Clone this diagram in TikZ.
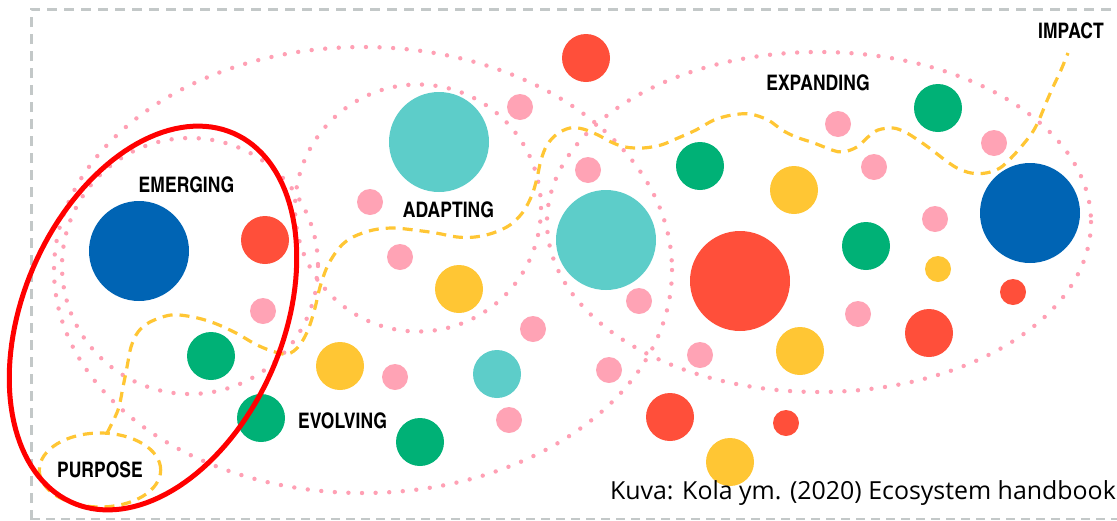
\documentclass[tikz,border=0pt]{standalone}
\usepackage{fontspec}
\usetikzlibrary{shapes.geometric}
\newfontfamily\cnfont{texgyreheroscn-bold.otf}
\newfontfamily\capfont{Open Sans}
\definecolor{blueC}{HTML}{0064B4}
\definecolor{tealC}{HTML}{5DCDC9}
\definecolor{redC}{HTML}{FF4F3A}
\definecolor{greenC}{HTML}{00B176}
\definecolor{yellowC}{HTML}{FFC634}
\definecolor{pinkC}{HTML}{FFA3B5}
\definecolor{dotC}{HTML}{FFA0B4}
\definecolor{borderC}{HTML}{C3C8C8}
\definecolor{ringC}{HTML}{FF0000}
\begin{document}
\begin{tikzpicture}[x=1pt,y=-1pt,
  dotline/.style={draw=dotC, line width=4.4pt, line cap=round, dash pattern=on 0pt off 13.6pt},
  yel/.style={draw=yellowC, line width=3.2pt, dash pattern=on 10pt off 7pt},
  lbl/.style={font=\cnfont\fontsize{21.4}{24}\selectfont, inner sep=0pt, text=black},
  circ/.style={circle, inner sep=0pt, draw=none},
  bigc/.style={circ, minimum size=100pt},
  midc/.style={circ, minimum size=48pt},
  smallc/.style={circ, minimum size=26pt}]
\useasboundingbox (0,0) rectangle (1117,520);
% border
\draw[borderC, line width=3pt, dash pattern=on 10pt off 7pt] (31,520) -- (31,9) -- (1130,9);
\draw[borderC, line width=2.5pt, dash pattern=on 9pt off 6pt] (31,519) -- (1130,519);
% dotted loops
\draw[dotline] (190,266) ellipse [x radius=128, y radius=128];
\draw[dotline] (418,208) ellipse [x radius=123, y radius=123.5];
\draw[dotline] (363,270) ellipse [x radius=309, y radius=223];
\draw[dotline] (819,222) ellipse [x radius=272, y radius=170];
% purpose
\node[lbl, ellipse, yel, minimum width=116pt, minimum height=74pt] (purpose) at (100,470) {PURPOSE};
\coordinate (impactend) at (1068,53);
\draw[yel] plot[smooth, tension=0.55] coordinates {
 (107,433) (118,410) (123,387) (127,367) (131,347) (138,332) (150,322) (171,315) (193,317)
 (214,323) (236,333) (257,345) (275,352) (288,354) (299,346) (308,330) (315,308) (320,287)
 (328,265) (340,247) (353,237) (373,230) (393,228) (414,230) (436,233) (457,237) (475,237)
 (493,233) (510,225) (523,212) (532,195) (537,178) (541,160) (547,145) (557,134) (570,128)
 (583,129) (598,135) (611,142) (625,147) (643,148) (661,145) (678,138) (696,130) (714,120)
 (732,115) (750,114) (768,120) (782,130) (796,137) (814,143) (832,150) (843,152) (857,147)
 (868,137) (878,130) (893,128) (905,132) (918,140) (932,150) (945,160) (957,168) (971,173)
 (986,173) (1000,168) (1011,158) (1021,147) (1032,133) (1039,120) (1046,103) (1053,87)
 (1061,70) (1068,53)};
% circles
\node[bigc, fill=blueC] (c1) at (139,251) {};
\node[midc, fill=redC] (c2) at (265,240) {};
\node[bigc, fill=tealC] (c3) at (439,142) {};
\node[smallc, fill=pinkC] (c4) at (520,107) {};
\node[smallc, fill=pinkC] (c5) at (370,202) {};
\node[smallc, fill=pinkC] (c6) at (400,257) {};
\node[smallc, fill=pinkC] (c7) at (263,311) {};
\node[midc, fill=greenC] (c8) at (211,356) {};
\node[midc, fill=yellowC] (c9) at (459,289) {};
\node[smallc, fill=pinkC] (c10) at (533,329) {};
\node[midc, fill=yellowC] (c11) at (340,366) {};
\node[smallc, fill=pinkC] (c12) at (395,377) {};
\node[midc, fill=tealC] (c13) at (497,374) {};
\node[midc, fill=greenC] (c14) at (261,418) {};
\node[midc, fill=greenC] (c15) at (420,442) {};
\node[smallc, fill=pinkC] (c16) at (509,420) {};
\node[midc, fill=redC] (c17) at (586,58) {};
\node[smallc, fill=pinkC] (c18) at (588,170) {};
\node[bigc, fill=tealC] (c19) at (606,240) {};
\node[midc, fill=greenC] (c20) at (700,166) {};
\node[midc, fill=yellowC] (c21) at (794,190) {};
\node[smallc, fill=pinkC] (c22) at (838,124) {};
\node[smallc, fill=pinkC] (c23) at (874,167) {};
\node[midc, fill=greenC] (c24) at (938,108) {};
\node[smallc, fill=pinkC] (c25) at (994,143) {};
\node[bigc, fill=blueC] (c26) at (1030,213) {};
\node[smallc, fill=pinkC] (c27) at (935,219) {};
\node[midc, fill=greenC] (c28) at (866,246) {};
\node[bigc, fill=redC] (c29) at (740,281) {};
\node[smallc, fill=yellowC] (c30) at (938,269) {};
\node[smallc, fill=redC] (c31) at (1013,292) {};
\node[smallc, fill=pinkC] (c32) at (639,301) {};
\node[smallc, fill=pinkC] (c33) at (858,314) {};
\node[midc, fill=redC] (c34) at (929,333) {};
\node[midc, fill=yellowC] (c35) at (800,351) {};
\node[smallc, fill=pinkC] (c36) at (700,355) {};
\node[smallc, fill=pinkC] (c37) at (609,370) {};
\node[midc, fill=redC] (c38) at (670,417) {};
\node[smallc, fill=redC] (c39) at (786,423) {};
\node[midc, fill=yellowC] (c40) at (730,462) {};
% labels
\node[lbl] (emerging) at (186.5,185) {EMERGING};
\node[lbl] (adapting) at (448.5,209.5) {ADAPTING};
\node[lbl] (evolving) at (342.5,420.5) {EVOLVING};
\node[lbl] (expanding) at (818,83) {EXPANDING};
\node[lbl] (impact) at (1071,31) {IMPACT};
% red ring
\draw[ringC, line width=5pt] plot[domain=0:360, samples=144]
  ({153+201.5*cos(\x)*cos(66.5)-130*sin(\x)*sin(66.5)},{318-201.5*cos(\x)*sin(66.5)-130*sin(\x)*cos(66.5)}) -- cycle;
% caption
\node[font=\capfont\fontsize{24.9}{29}\selectfont, anchor=base east, inner sep=0pt, text=black] (caption) at (1116,499) {Kuva: Kola ym. (2020) Ecosystem handbook};
\end{tikzpicture}
\end{document}
